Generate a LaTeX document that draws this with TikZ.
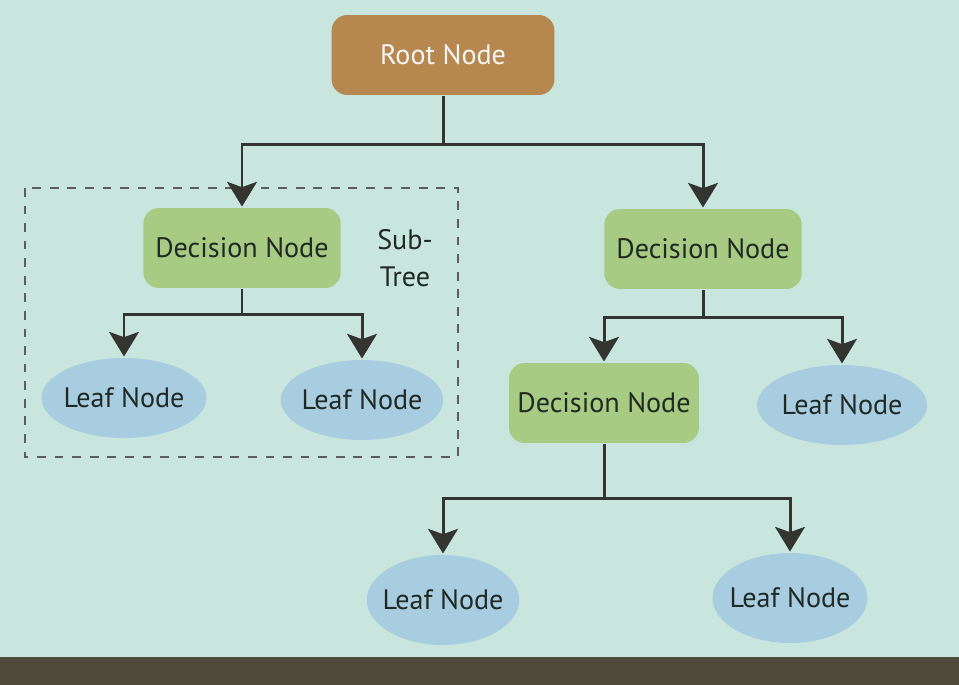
\documentclass[tikz,border=0pt]{standalone}
\usepackage{fontspec}
\setmainfont{PT Sans}
\usetikzlibrary{shapes.geometric,arrows.meta}
\definecolor{slidebg}{RGB}{201,230,222}
\definecolor{rootfill}{RGB}{183,135,80}
\definecolor{decfill}{RGB}{168,203,131}
\definecolor{leaffill}{RGB}{168,205,224}
\definecolor{linecol}{RGB}{52,52,48}
\definecolor{txtcol}{RGB}{32,42,36}
\definecolor{floor}{RGB}{78,75,60}

\begin{document}
\begin{tikzpicture}[x=0.02cm,y=-0.02cm,>={Stealth[length=14pt,width=17pt,inset=3pt]},line width=1.7pt,
    main node/.style={font=\fontsize{16}{19}\selectfont,text=txtcol,inner sep=0pt},
    root node/.style={main node,rectangle,rounded corners=9pt,fill=rootfill,text=white!92!gray,minimum width=4.46cm,minimum height=1.6cm},
    dec node/.style={main node,rectangle,rounded corners=9pt,fill=decfill,minimum width=3.95cm,minimum height=1.6cm},
    leaf node/.style={main node,ellipse,fill=leaffill,inner xsep=-6pt,minimum width=3.3cm,minimum height=1.6cm},
    tree line/.style={draw=linecol,->}]
            \fill[slidebg] (0,0) rectangle (959,685);
            \fill[floor] (0,657) rectangle (959,685);

            \node[root node] (r) at (443,55) {Root Node};
            \node[dec node] (d1) at (242,248) {Decision Node};
            \node[dec node] (d2) at (703,249) {Decision Node};
            \node[dec node, minimum width=3.8cm] (d3) at (604,403) {Decision Node};
            \node[leaf node] (l1) at (124,398) {Leaf Node};
            \node[leaf node, minimum width=3.25cm] (l2) at (362,400) {Leaf Node};
            \node[leaf node, minimum width=3.4cm] (l3) at (842,405) {Leaf Node};
            \node[leaf node, minimum width=3.05cm, minimum height=1.8cm] (l4) at (443,600) {Leaf Node};
            \node[leaf node, minimum width=3.1cm, minimum height=1.8cm] (l5) at (790,598) {Leaf Node};
            \node[main node, align=center, font=\fontsize{16}{21}\selectfont] (st) at (405,258) {Sub-\\Tree};

            \draw[draw=linecol!80, line width=1.2pt, dash pattern=on 5pt off 5pt] (25,188) rectangle (458,457);

            \path[tree line]
                (r.south) -- ++(0,48) -| (d1.north);
            \path[tree line]
                (r.south) -- ++(0,48) -| (d2.north);
            \path[tree line]
                (d1.south) -- ++(0,25) -| (l1.north);
            \path[tree line]
                (d1.south) -- ++(0,25) -| (l2.north);
            \path[tree line]
                (d2.south) -- ++(0,27) -| (d3.north);
            \path[tree line]
                (d2.south) -- ++(0,27) -| (l3.north);
            \path[tree line]
                (d3.south) -- ++(0,54) -| (l4.north);
            \path[tree line]
                (d3.south) -- ++(0,54) -| (l5.north);
        \end{tikzpicture}
\end{document}
